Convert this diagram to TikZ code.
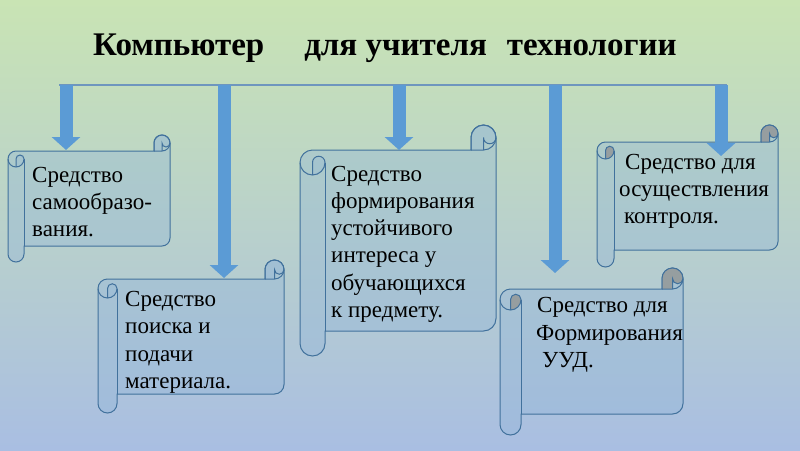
\documentclass[tikz,border=0pt]{standalone}
\usepackage{fontspec}
\setmainfont{Liberation Serif}
\usetikzlibrary{arrows.meta}
\definecolor{bgtop}{RGB}{201,228,180}
\definecolor{bgbot}{RGB}{169,190,226}
\definecolor{arrowblue}{RGB}{91,155,213}
\definecolor{scrolledge}{RGB}{65,113,156}
\definecolor{scrollfill}{RGB}{143,180,217}
\definecolor{curlgray}{RGB}{150,158,160}
\definecolor{barline}{RGB}{110,150,190}
\tikzset{
  scrollbody/.style={fill=scrollfill, fill opacity=0.35, draw=scrolledge, line width=1pt},
  scrollstroke/.style={draw=scrolledge, line width=1pt},
  curlplain/.style={fill=scrollfill, fill opacity=0.25},
  curldark/.style={fill=curlgray},
  blockarrow/.style={draw=arrowblue, line width=13pt, -{Triangle[width=28pt,length=13pt]}},
  bartop/.style={draw=barline, line width=1.2pt},
  itemtext/.style={anchor=base west, inner sep=0pt, font=\fontsize{23}{27}\selectfont, text=black},
  titletext/.style={anchor=base west, inner sep=0pt, font=\fontsize{33}{37}\selectfont\bfseries, text=black}
}
% #1 L, #2 T, #3 R, #4 B, #5 ch, #6 curl style
\newcommand{\scrollbox}[6]{%
\pgfmathsetmacro\sL{#1}\pgfmathsetmacro\sR{#3}%
\pgfmathsetmacro\sh{#5/2}\pgfmathsetmacro\sq{#5/4}%
\pgfmathsetmacro\yA{#2+#5/2}\pgfmathsetmacro\yB{#2+#5}%
\pgfmathsetmacro\yC{#2+1.5*#5}\pgfmathsetmacro\yD{#2+2*#5}%
\pgfmathsetmacro\yE{#4-1.5*#5}\pgfmathsetmacro\yF{#4-#5}\pgfmathsetmacro\yG{#4-#5/2}%
\pgfmathsetmacro\xA{#1+#5/2}\pgfmathsetmacro\xB{#1+#5}%
\pgfmathsetmacro\xD{#3-#5}\pgfmathsetmacro\xE{#3-#5/2}%
\path[scrollbody] (\sL,\yC) arc[start angle=180,end angle=270,radius=\sh]
  -- (\xD,\yB) -- (\xD,\yA) arc[start angle=180,end angle=360,radius=\sh]
  -- (\sR,\yE) arc[start angle=0,end angle=90,radius=\sh]
  -- (\xB,\yF) -- (\xB,\yG) arc[start angle=0,end angle=180,radius=\sh] -- cycle;
\path[#6] (\xD,\yB) -- (\xD,\yA) arc[start angle=180,end angle=360,radius=\sh]
  arc[start angle=0,end angle=180,radius=\sq] -- (\xE,\yB) -- cycle;
\path[#6] (\xA,\yD) -- (\xA,\yC) arc[start angle=180,end angle=360,radius=\sq]
  arc[start angle=0,end angle=90,radius=\sh] -- cycle;
\path[scrollstroke] (\xD,\yB) -- (\xD,\yA) arc[start angle=180,end angle=360,radius=\sh];
\path[scrollstroke] (\xD,\yB) -- (\xE,\yB) arc[start angle=90,end angle=0,radius=\sh];
\path[scrollstroke] (\xE,\yB) -- (\xE,\yA) arc[start angle=180,end angle=0,radius=\sq];
\path[scrollstroke] (\xA,\yD) -- (\xA,\yC) arc[start angle=180,end angle=360,radius=\sq]
  arc[start angle=0,end angle=180,radius=\sh];
\path[scrollstroke] (\xB,\yC) -- (\xB,\yF);
}
\begin{document}
\begin{tikzpicture}[x=1pt,y=1pt]
\useasboundingbox (0,-450) rectangle (800,0);
\shade[top color=bgtop, bottom color=bgbot] (0,-450) rectangle (800,0);
\begin{scope}[yscale=-1]
% title
\node[titletext] (title) at (93,55) {Компьютер\hspace{40pt}для учителя\hspace{20pt}технологии};
% scrolls
\scrollbox{8}{135}{170}{262}{16}{curlplain}
\scrollbox{98}{260}{284}{413}{19}{curlplain}
\scrollbox{300}{125}{496}{356}{25}{curlplain}
\scrollbox{597}{125}{778}{267}{17}{curldark}
\scrollbox{500}{268}{683}{435}{21}{curldark}
% bar and arrows
\coordinate (barL) at (59,85);
\coordinate (barR) at (727,85);
\coordinate (a1) at (66,85);  \coordinate (t1) at (66,150);
\coordinate (a2) at (224,85); \coordinate (t2) at (224,278);
\coordinate (a3) at (399,85); \coordinate (t3) at (399,150);
\coordinate (a4) at (555,85); \coordinate (t4) at (555,273);
\coordinate (a5) at (721,85); \coordinate (t5) at (721,156);
\draw[bartop] (barL) -- (barR);
\draw[blockarrow] (a1) -- (t1);
\draw[blockarrow] (a2) -- (t2);
\draw[blockarrow] (a3) -- (t3);
\draw[blockarrow] (a4) -- (t4);
\draw[blockarrow] (a5) -- (t5);
% texts
\node[itemtext] (s1a) at (32,182) {Средство};
\node[itemtext] (s1b) at (32,209) {самообразо-};
\node[itemtext] (s1c) at (32,236) {вания.};
\node[itemtext] (s2a) at (125,306) {Средство};
\node[itemtext] (s2b) at (125,333.5) {поиска и};
\node[itemtext] (s2c) at (125,361) {подачи};
\node[itemtext] (s2d) at (125,388.5) {материала.};
\node[itemtext] (s3a) at (331,181) {Средство};
\node[itemtext] (s3b) at (331,208) {формирования};
\node[itemtext] (s3c) at (331,235) {устойчивого};
\node[itemtext] (s3d) at (331,262) {интереса у};
\node[itemtext] (s3e) at (331,290) {обучающихся};
\node[itemtext] (s3f) at (331,317) {к предмету.};
\node[itemtext] (s4a) at (625,169) {Средство для};
\node[itemtext] (s4b) at (619,196) {осуществления};
\node[itemtext] (s4c) at (624,223) {контроля.};
\node[itemtext] (s5a) at (537,312) {Средство для};
\node[itemtext] (s5b) at (536,340) {Формирования};
\node[itemtext] (s5c) at (542,367) {УУД.};
\end{scope}
\end{tikzpicture}
\end{document}
